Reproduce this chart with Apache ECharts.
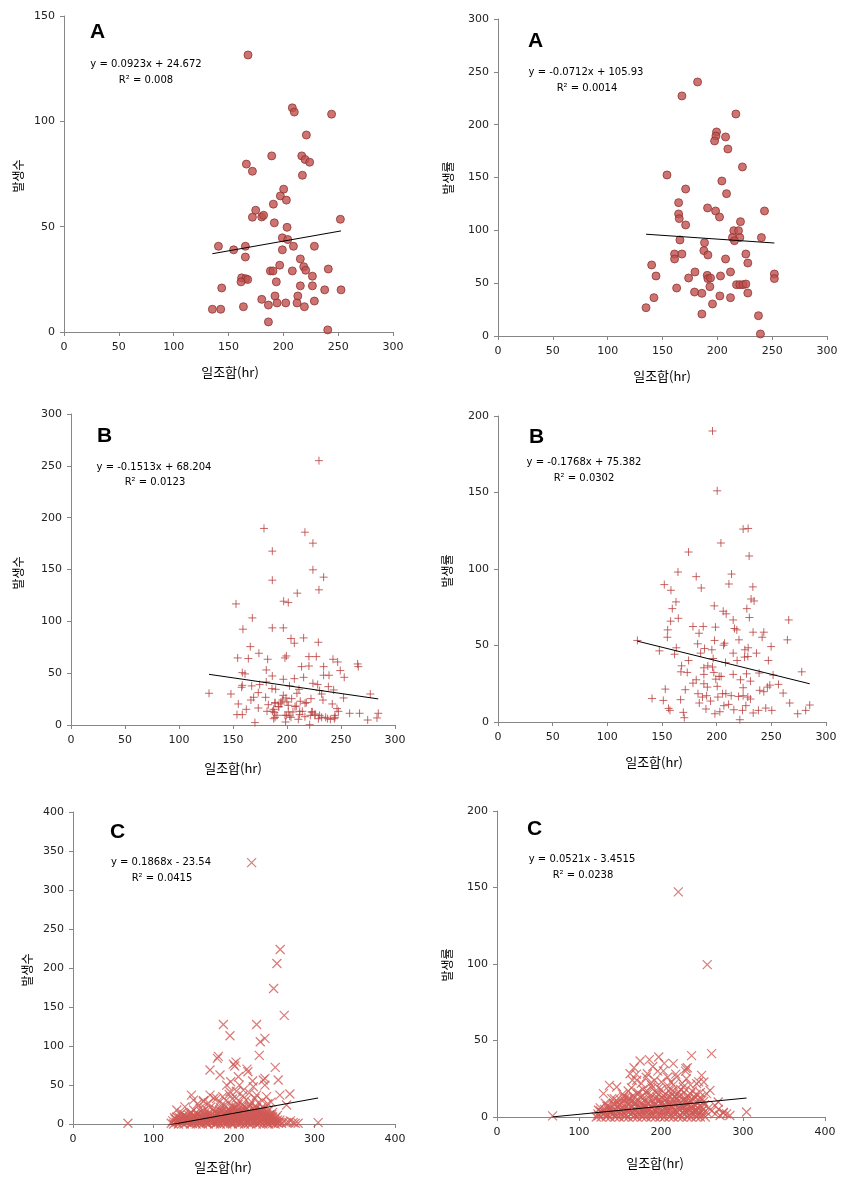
<!DOCTYPE html>
<html><head><meta charset="utf-8">
<script src="https://cdn.jsdelivr.net/npm/echarts@6/dist/echarts.min.js"></script>
<style>html,body{margin:0;padding:0;background:#fff}#c{width:858px;height:1181px}</style>
</head><body><div id="c"></div>
<script>
// ---------- DATA ----------
// Panel A (left): 일조합 vs 발생수
const dataA1 = [[167.8,131.5],[208.2,106.4],[210,104.4],[244,103.4],[221,93.5],[189.4,83.6],[216.8,83.6],[219.8,81.9],[224,80.6],[166.3,79.7],[171.8,76.3],[217.4,74.4],[200.3,67.8],[197.3,64.6],[202.8,62.6],[190.9,60.7],[174.8,57.8],[171.8,54.5],[180.3,54.6],[182,55.4],[191.8,51.8],[203.4,49.7],[252,53.5],[199.1,44.7],[204,43.9],[140.8,40.7],[165.4,40.7],[209.2,40.7],[228.3,40.7],[154.7,39],[199.1,39],[165.4,35.6],[215.5,34.7],[196.7,31.7],[218.6,31],[220.4,29.3],[241,29.9],[188.2,29],[190.6,29],[208.2,29],[226.5,26.5],[162,25.7],[165.7,25.3],[167.5,24.9],[161.4,23.8],[193.6,23.8],[143.8,20.9],[215.5,21.9],[226.5,21.9],[237.7,20],[252.6,20],[180.3,15.5],[192.4,17.1],[213.2,17.1],[194.3,13.8],[202.2,13.8],[212.5,13.8],[228.3,14.7],[186.4,12.8],[219.2,12],[163.6,12],[135.3,10.8],[142.9,10.8],[186.4,4.8],[240.5,1]];
// Panel A (right): 일조합 vs 발생률
const dataA2 = [[182,240.4],[167.7,227.2],[216.9,210.1],[199.3,193.1],[198.7,189.3],[207.5,188.4],[197.5,184.6],[209.6,177],[222.9,160],[154.1,152.4],[204.1,146.7],[171.1,139.1],[208.4,134.7],[164.7,126.2],[191.1,121.2],[198.4,118.3],[243,118.3],[202,112.6],[164.7,115.5],[165.3,111.1],[221.1,108.2],[171.1,105.1],[215,99.7],[219.3,99.7],[213.8,93.1],[220.5,93.1],[240.2,93.1],[215.6,90.2],[165.9,90.9],[188.3,88.3],[187.7,80.8],[191.4,76.7],[161,77.6],[167.7,77.6],[226,77.6],[161,72.9],[207.5,72.9],[227.8,69.1],[140.1,67.2],[144.1,56.8],[179.6,60.6],[212,60.6],[173.8,54.9],[190.8,57.4],[191.4,54.3],[193.8,54.9],[202.9,56.8],[252,58.7],[252,54.3],[162.9,45.4],[193.2,46.7],[217.5,48.6],[220.5,48.6],[223.5,48.6],[226,49.2],[179.2,41.6],[185.9,40.4],[227.8,40.7],[142.2,36.3],[202.3,37.9],[212,36.3],[195.6,30.3],[135,26.8],[185.9,20.8],[237.5,19.2],[239.3,1.9]];
// Panel B (left): 일조합 vs 발생수
const dataB1 = [[229.6,255],[178.7,189.6],[216.6,186],[224,175.4],[186.4,167.7],[224,149.7],[233.9,142.6],[186.4,139.7],[229.6,130.4],[209.5,127.2],[196.9,119.4],[201.2,118.1],[152.8,116.8],[167.9,103.3],[159.2,92.4],[186.4,93.7],[196.6,93.7],[203.7,83.4],[215.4,84],[206.8,78.9],[229,79.8],[166,75.6],[174,69.2],[154.3,64.7],[164.2,64.1],[182.1,63.4],[198.1,64.7],[199.4,66.6],[220.3,66],[227.1,66],[242.6,63.4],[246.9,60.8],[265.4,58.9],[266,56.3],[213.5,56.3],[220.3,56.9],[233.9,56.3],[180.8,53.1],[158.6,50.5],[161.1,49.3],[186.4,47.3],[233.9,48],[238.9,48],[249.3,52.5],[253,46],[196.6,44.1],[206.8,44.7],[215.4,46],[224,40.2],[228.4,39],[158.6,38.3],[167.3,37.7],[174.7,39],[180.8,41.5],[158,36.4],[186.1,35.1],[189.5,34.4],[202.3,37.7],[211.1,34.4],[238.3,37],[243.2,33.8],[230.2,33.2],[127.8,30.6],[148.1,29.9],[173.4,31.2],[209.2,30.6],[277.1,29.9],[232.1,29.9],[196.6,28.6],[199.1,26.1],[169.1,26.7],[180.2,26.7],[204.3,25.4],[222.2,25.4],[252.4,26.1],[233.3,24.1],[166.6,24.1],[195.7,24.1],[212.3,22.9],[188.9,21.6],[217.9,21.6],[194.4,20.3],[154.9,20.3],[241.9,20.3],[182.7,19.6],[201.2,19],[208.6,18.3],[192.5,17.7],[173.4,16.4],[187.6,15.1],[162.3,15.1],[246.3,15.8],[181.5,13.2],[188.3,11.9],[201.2,12.6],[205.5,12.6],[214.2,13.2],[223.4,12.6],[225.9,10.6],[258,11.3],[267.2,11.3],[284.5,11.3],[153.7,10],[158.6,10],[199.4,9.3],[211.7,10],[221.6,9.3],[230.2,9.3],[244.4,9.3],[188.9,7.4],[203.7,7.4],[216.6,8],[232.1,7.4],[237.6,6.1],[243.8,6.1],[283.3,6.8],[274.7,4.8],[170.3,2.3],[198.7,2.9],[221,0.3],[188.9,21],[192,17.7],[194.4,22.2],[186.5,13.2],[190.7,9.4],[200,22.2],[202.5,8.7],[207.4,17.7],[211.8,13.2],[216.7,21],[222.9,12.6],[225.9,9.4],[229.1,6.1],[235.8,7.4],[240.2,5.5],[244.4,7.4],[247.6,13.2],[198.1,9.4],[187.7,6.1],[210.5,5.5]];
// Panel B (right): 일조합 vs 발생률
const dataB2 = [[196.2,190.2],[200.5,151.1],[224.2,126.1],[228.8,126.5],[203.9,117],[174.3,111.1],[229.7,108.5],[164.6,98],[213.6,96.7],[181.3,95],[152.1,89.8],[211.2,90.2],[185.9,87.6],[233.1,88.3],[158.2,86.1],[231.5,80.4],[234.2,79.1],[162.8,78.5],[159.4,74.1],[197.8,75.9],[206,72.4],[227.6,74.1],[208.7,70.7],[164.9,67.8],[229.9,68.3],[265.9,66.7],[157.9,65.9],[215.1,66.7],[178.3,62.4],[187.7,62.4],[198.9,62],[216.3,61.1],[218.4,60.2],[155.2,60.2],[183.9,58],[233.3,58.7],[243.1,58.7],[154.9,55.4],[241.6,55.4],[264.7,53.7],[127.5,53.3],[198.1,53.3],[220.4,53.7],[207.2,51.5],[182.6,51.1],[188.9,48],[249.8,49.3],[163.1,48.5],[206.3,50.2],[225.8,47.2],[228.8,48.5],[147.6,46.5],[195.6,47.2],[236.4,45],[215.1,45],[161.5,44.3],[185.3,45],[225.5,42.4],[228.5,42.8],[247.3,40.2],[196.8,41.5],[174.3,40.2],[218.7,40.2],[208.1,38.9],[167.9,36.7],[191.9,36.7],[188.3,35.4],[196.2,35.9],[173.1,32.4],[197.4,32.4],[215.1,31.1],[227.3,31.5],[277.8,32.8],[188.3,31.1],[167.3,32.8],[202.3,29.8],[238.8,32],[251.6,30.7],[204.1,29.8],[181.3,27.6],[199.2,28],[221.8,27.6],[230.9,26.7],[256.5,24.6],[178.3,25.4],[188.3,25],[248.6,24.1],[171.3,21.1],[191.5,22.8],[200.5,23.3],[224.2,22.4],[246.4,22.8],[153,21.5],[239.4,20.7],[243.1,19.8],[260.8,18.9],[182.9,18.5],[205.4,18.5],[208.4,18.5],[187,16.3],[190.8,17.2],[201.1,16.3],[213.3,17.2],[220,16.7],[224.2,17.2],[228.5,16.3],[140.9,15.4],[167,14.6],[194.4,13.7],[230.9,15],[151.2,14.1],[184.1,12.4],[210.9,11.5],[266.8,12.4],[206.6,10.7],[226.7,10.7],[285.1,11.1],[156,8.9],[190.2,8.5],[215.7,8],[244.9,9.1],[157.3,7.6],[223.6,7.6],[238.2,7.6],[250.4,7.6],[281.4,7.6],[169.5,6.3],[202.9,6.7],[233.4,5.9],[274.1,5.4],[198.4,5.4],[170.4,2.8],[221.2,1.5]];
// Panel C (left): 일조합 vs 발생수
const dataC1 = [[221.9,335.1],[257.4,223.7],[253.3,205.8],[249.2,173.7],[262.4,139.2],[186.8,127.6],[228.1,127.6],[195,113.1],[238.4,109.7],[232.6,105.4],[231.4,87.9],[180.6,86.7],[179.3,84.1],[202.5,79.4],[199.2,76.8],[200.9,74.3],[216.1,70.4],[217.3,67],[251.2,72.6],[170.2,69.2],[238.4,58.5],[236.3,56.4],[254.9,56.4],[182.6,62.8],[205.4,60.6],[223.1,55.1],[195.9,54.2],[206.7,49.9],[224,47.8],[190.9,49.9],[211.6,43.5],[238.4,49.9],[195,41.4],[147.1,37.1],[269.4,38.4],[257,37.1],[170.2,37.1],[228.1,37.1],[178.5,32.9],[202.5,32.9],[240.5,35],[128.9,17.9],[149.6,30.7],[162,28.6],[265.3,24.3],[68.2,0.9],[304.5,1.7],[273.5,1.7],[279.7,0.9],[259.1,0.9],[265.3,1.7],
[122,1],[125,0],[128,2],[131,0],[133,3],[136,1],[138,0],[141,2],[143,4],[146,0],[148,1],[151,3],[153,0],[156,2],[158,1],[161,0],[163,3],[166,1],[168,0],[171,2],[173,4],[176,0],[178,1],[181,3],[183,0],[186,2],[188,1],[191,0],[193,4],[196,1],[198,0],[201,2],[203,3],[206,0],[208,1],[211,2],[213,0],[216,4],[218,1],[221,0],[223,2],[226,3],[228,0],[231,1],[233,2],[236,0],[238,3],[241,1],[243,0],[246,2],[248,1],[251,0],[253,2],[255,1],
[127,6],[132,8],[137,5],[140,9],[144,7],[149,6],[152,10],[157,5],[160,8],[164,6],[167,9],[170,5],[174,7],[177,10],[180,6],[184,8],[187,5],[190,9],[194,7],[197,10],[200,6],[204,8],[207,5],[210,9],[214,7],[217,10],[220,6],[224,8],[227,5],[230,9],[234,6],[237,8],[240,5],[244,7],[247,9],[250,6],[252,4],
[138,12],[145,14],[150,11],[155,13],[159,16],[163,12],[168,14],[172,11],[176,15],[181,13],[185,16],[189,12],[192,14],[196,17],[199,13],[203,15],[206,12],[210,16],[213,13],[217,15],[221,12],[225,14],[229,11],[232,15],[236,13],[240,12],[244,11],
[150,18],[158,20],[165,19],[171,22],[178,18],[183,21],[188,24],[193,19],[197,23],[201,20],[205,25],[209,18],[212,22],[216,20],[220,24],[224,19],[228,21],[233,18],[238,20],
[155,26],[162,30],[168,27],[175,33],[182,28],[186,35],[190,30],[194,38],[198,32],[203,42],[207,29],[211,36],[215,31],[219,40],[222,28],[226,33],[230,27],[235,30],[242,26],[246,28],[139,22],[133,12],[129,9],[248,15],[254,11],[257,5],[262,3],[268,2],
[143,3],[147,5],[152,2],[155,7],[159,3],[162,6],[165,2],[169,4],[172,7],[175,3],[179,5],[182,8],[185,3],[189,6],[192,2],[195,5],[199,8],[202,4],[205,7],[209,3],[212,6],[215,2],[219,5],[222,8],[225,4],[229,6],[232,3],[235,5],[239,7],[242,4],[245,3],[249,5],
[180,12],[186,11],[191,16],[195,12],[200,10],[204,11],[208,13],[212,10],[218,11],[223,12],[227,15],[231,10],[170,10],[160,11],[150,9],[240,10],
[124,4],[126,8],[129,5],[132,3],[134,7],[137,10],[139,4],[142,8],[144,11],[147,2],[149,9],[152,6],[154,12],[157,3],[159,9],[161,5],[164,11],[166,4],[169,13],[171,7],[174,2],[176,10],[178,14],[180,4],[182,17],[184,10],[186,6],[188,14],[190,3],[192,11],[194,16],[196,7],[198,19],[200,14],[202,9],[204,18],[206,3],[208,15],[210,7],[212,19],[214,10],[216,13],[218,7],[220,16],[222,4],[224,12],[226,18],[228,8],[230,14],[232,6],[234,11],[236,16],[238,9],[240,14],[242,7],[244,12],[246,5],[248,9],[250,3],[252,8],[254,5],[256,2],
[135,14],[147,15],[162,17],[174,18],[187,20],[199,23],[203,21],[211,24],[219,22],[227,20],[235,22],[243,18],
[141,5],[156,9],[167,6],[179,2],[187,9],[193,13],[201,6],[209,11],[217,3],[225,10],[233,13],[241,2],[247,12],[139,10],[153,5],[183,5],[197,3],[213,8],[229,3],[245,9],[270,4],[276,1]];
// Panel C (right): 일조합 vs 발생률
const dataC2 = [[221.1,147.1],[256.4,99.6],[261.7,41.4],[237.3,40.1],[197.2,39.2],[185.8,37.5],[174.5,36.6],[215,34.9],[230.4,31.6],[232.1,32.2],[167.1,32.2],[137.1,20.7],[202.9,30.1],[183.4,28.3],[249.5,27.2],[252.3,22.9],[243.4,21.8],[67.8,0.7],[304.3,3.3],[275.9,2.6],[269.8,9.8],[265.7,7.6],[259.7,17.4],[255.6,15.3],[162.3,28.3],[219.1,26.1],[170.5,24],[200.4,22.9],[188.6,20.7],[227.2,19.6],[146,19.6],[129.8,15.3],[123.7,4.4],[154.2,13.1],[272,1],[280,2],[284,1],
[121,0],[124,1],[127,0],[130,2],[133,0],[135,1],[138,0],[141,2],[144,0],[146,1],[149,0],[152,2],[155,0],[157,1],[160,0],[163,2],[166,0],[168,1],[171,0],[174,2],[177,0],[179,1],[182,0],[185,2],[188,0],[190,1],[193,0],[196,2],[199,0],[201,1],[204,0],[207,2],[210,0],[212,1],[215,0],[218,2],[221,0],[223,1],[226,0],[229,2],[232,0],[234,1],[237,0],[240,2],[243,0],[245,1],[248,0],[251,2],[254,0],
[126,4],[131,3],[136,5],[140,3],[145,4],[150,5],[154,3],[158,4],[162,5],[166,3],[170,4],[174,5],[178,3],[182,4],[186,5],[190,3],[194,4],[198,5],[202,3],[206,4],[210,5],[214,3],[218,4],[222,5],[226,3],[230,4],[234,5],[238,3],[242,4],[246,3],[250,4],
[134,7],[139,6],[143,8],[148,7],[152,9],[157,6],[161,8],[165,7],[169,9],[173,6],[177,8],[181,7],[185,9],[189,6],[193,8],[197,7],[201,9],[205,6],[209,8],[213,7],[217,9],[221,6],[225,8],[229,7],[233,9],[237,6],[241,8],[245,6],
[147,10],[155,11],[162,12],[168,10],[175,13],[180,11],[186,12],[191,10],[195,13],[199,11],[203,12],[207,10],[211,13],[216,11],[220,12],[224,10],[229,12],[234,10],[239,11],
[153,15],[160,17],[166,14],[172,16],[178,18],[184,15],[189,19],[194,16],[200,18],[205,15],[209,20],[214,17],[219,15],[224,18],[228,16],[233,14],[238,17],[243,15],[248,13],[252,10],[258,6],[262,4],[140,12],[132,9],
[165,24],[176,22],[182,26],[192,24],[196,30],[208,26],[212,23],[218,28],[226,22],[231,25],[236,21],[246,23],[170,28],[190,33],[204,35],[230,30],
[123,2],[126,6],[128,3],[131,5],[134,2],[136,7],[139,4],[142,9],[144,5],[147,3],[149,8],[151,11],[153,6],[156,2],[158,9],[160,5],[163,10],[165,3],[167,12],[170,7],[172,2],[174,10],[176,6],[178,14],[180,3],[183,9],[185,6],[187,14],[189,2],[191,8],[193,12],[195,5],[197,15],[199,9],[201,3],[203,14],[205,8],[207,12],[209,4],[211,10],[213,15],[215,6],[217,13],[219,3],[221,10],[223,14],[225,6],[227,11],[229,4],[231,8],[233,12],[235,3],[237,10],[239,6],[241,13],[243,5],[245,9],[247,2],[249,7],[251,5],[253,8],[256,3],
[143,12],[157,13],[171,15],[183,17],[197,19],[210,17],[222,16],[236,15],[248,16],[164,19],[187,22],[215,21],
[137,3],[152,4],[168,5],[181,6],[192,5],[204,6],[216,5],[228,6],[240,4],[246,11],[160,12],[176,9],[196,11],[212,8],[230,10],[250,11],[266,2],[270,5],[276,3]];

// Trendline coefficients [slope, intercept] and label texts
const trendA1 = [0.0923, 24.672], trendA2 = [-0.0712, 105.93];
const trendB1 = [-0.1513, 68.204], trendB2 = [-0.1768, 75.382];
const trendC1 = [0.1868, -23.54], trendC2 = [0.0521, -3.4515];
const eqTexts = ['y = 0.0923x + 24.672','y = -0.0712x + 105.93','y = -0.1513x + 68.204','y = -0.1768x + 75.382','y = 0.1868x - 23.54','y = 0.0521x - 3.4515'];
const r2Texts = ['R² = 0.008','R² = 0.0014','R² = 0.0123','R² = 0.0302','R² = 0.0415','R² = 0.0238'];
const panelLabels = ['A','A','B','B','C','C'];
const yTitles = ['발생수','발생률','발생수','발생률','발생수','발생률'];
const xTitle = '일조합(hr)';
const xMax = [300,300,300,300,400,400], xInt = [50,50,50,50,100,100];
const yMax = [150,300,300,200,400,200], yInt = [50,50,50,50,50,50];

// ---------- LAYOUT ----------
const grids = [
  {left:64, top:16, width:329, height:316},
  {left:498, top:19, width:329, height:317},
  {left:71, top:414, width:324, height:311},
  {left:498, top:416, width:328, height:306},
  {left:73, top:812, width:322, height:312},
  {left:497, top:811, width:328, height:306}
];
const datasets = [dataA1, dataA2, dataB1, dataB2, dataC1, dataC2];
const trends = [trendA1, trendA2, trendB1, trendB2, trendC1, trendC2];
const labelPos = [[90,22],[528,31],[97,426],[529,427],[110,822],[527,819]];
const eqPos = [[146,64],[586,72],[154,467],[584,462],[161,862],[582,859]];
const r2Pos = [[146,80],[587,88],[155,482],[584,478],[162,878],[583,875]];
const yTitlePos = [[18,176],[448,178],[18,573],[447,571],[27,970],[447,965]];
const xTitlePos = [[230,372],[662,376],[233,768],[654,762],[223,1167],[655,1163]];

const RED = '#C0504D';
const axisGray = '#868686';
const numFont = 'DejaVu Sans';

const xAxes = [], yAxes = [], series = [], graphics = [];
for (let i = 0; i < 6; i++) {
  const common = {
    gridIndex: i, type: 'value', min: 0, splitLine: {show: false},
    axisLine: {show: true, onZero: false, lineStyle: {color: axisGray, width: 1}},
    axisTick: {show: true, inside: false, length: 4, lineStyle: {color: axisGray}},
    axisLabel: {color: '#222', fontFamily: numFont, fontSize: 11}
  };
  xAxes.push(Object.assign({}, common, {max: xMax[i], interval: xInt[i], axisLabel: Object.assign({}, common.axisLabel, {margin: 10})}));
  yAxes.push(Object.assign({}, common, {max: yMax[i], interval: yInt[i], axisLabel: Object.assign({}, common.axisLabel, {margin: 9})}));
  let sym, sz, style;
  if (i < 2) { sym = 'circle'; sz = 8; style = {color: RED, borderColor: '#8E3533', borderWidth: 1}; }
  else if (i < 4) { sym = 'path://M5,0L5,10M0,5L10,5'; sz = 8; style = {color: 'none', borderColor: '#B8403E', borderWidth: 1}; }
  else { sym = 'path://M0,0L10,10M10,0L0,10'; sz = 9; style = {color: 'none', borderColor: '#D05A56', borderWidth: 1.2}; }
  series.push({type: 'scatter', xAxisIndex: i, yAxisIndex: i, data: datasets[i], symbol: sym, symbolSize: sz, itemStyle: style, silent: true, z: 2});
  const xs = datasets[i].map(p => p[0]);
  const x0 = Math.min(...xs), x1 = Math.max(...xs);
  const t = trends[i];
  series.push({type: 'line', xAxisIndex: i, yAxisIndex: i, data: [[x0, t[0]*x0 + t[1]], [x1, t[0]*x1 + t[1]]], symbol: 'none', lineStyle: {color: '#000', width: 1}, silent: true, clip: true, z: 3});
  graphics.push({type: 'text', x: labelPos[i][0], y: labelPos[i][1], style: {text: panelLabels[i], font: 'bold 21px "Liberation Sans"', fill: '#000'}});
  graphics.push({type: 'text', x: eqPos[i][0], y: eqPos[i][1], style: {text: eqTexts[i], font: '10px "DejaVu Sans"', fill: '#000', align: 'center', verticalAlign: 'middle', textAlign: 'center', textVerticalAlign: 'middle'}});
  graphics.push({type: 'text', x: r2Pos[i][0], y: r2Pos[i][1], style: {text: r2Texts[i], font: '10px "DejaVu Sans"', fill: '#000', align: 'center', verticalAlign: 'middle', textAlign: 'center', textVerticalAlign: 'middle'}});
  graphics.push({type: 'text', x: yTitlePos[i][0], y: yTitlePos[i][1], rotation: Math.PI/2, style: {text: yTitles[i], font: '12px "Noto Sans CJK KR"', fill: '#000', align: 'center', verticalAlign: 'middle', textAlign: 'center', textVerticalAlign: 'middle'}});
  graphics.push({type: 'text', x: xTitlePos[i][0], y: xTitlePos[i][1], style: {text: xTitle, font: '13px "Noto Sans CJK KR"', fill: '#000', align: 'center', verticalAlign: 'middle', textAlign: 'center', textVerticalAlign: 'middle'}});
}

const chart = echarts.init(document.getElementById('c'), null, {renderer: 'canvas'});
chart.setOption({
  animation: false,
  backgroundColor: '#fff',
  grid: grids,
  xAxis: xAxes,
  yAxis: yAxes,
  series: series,
  graphic: graphics
});
</script>
</body></html>
